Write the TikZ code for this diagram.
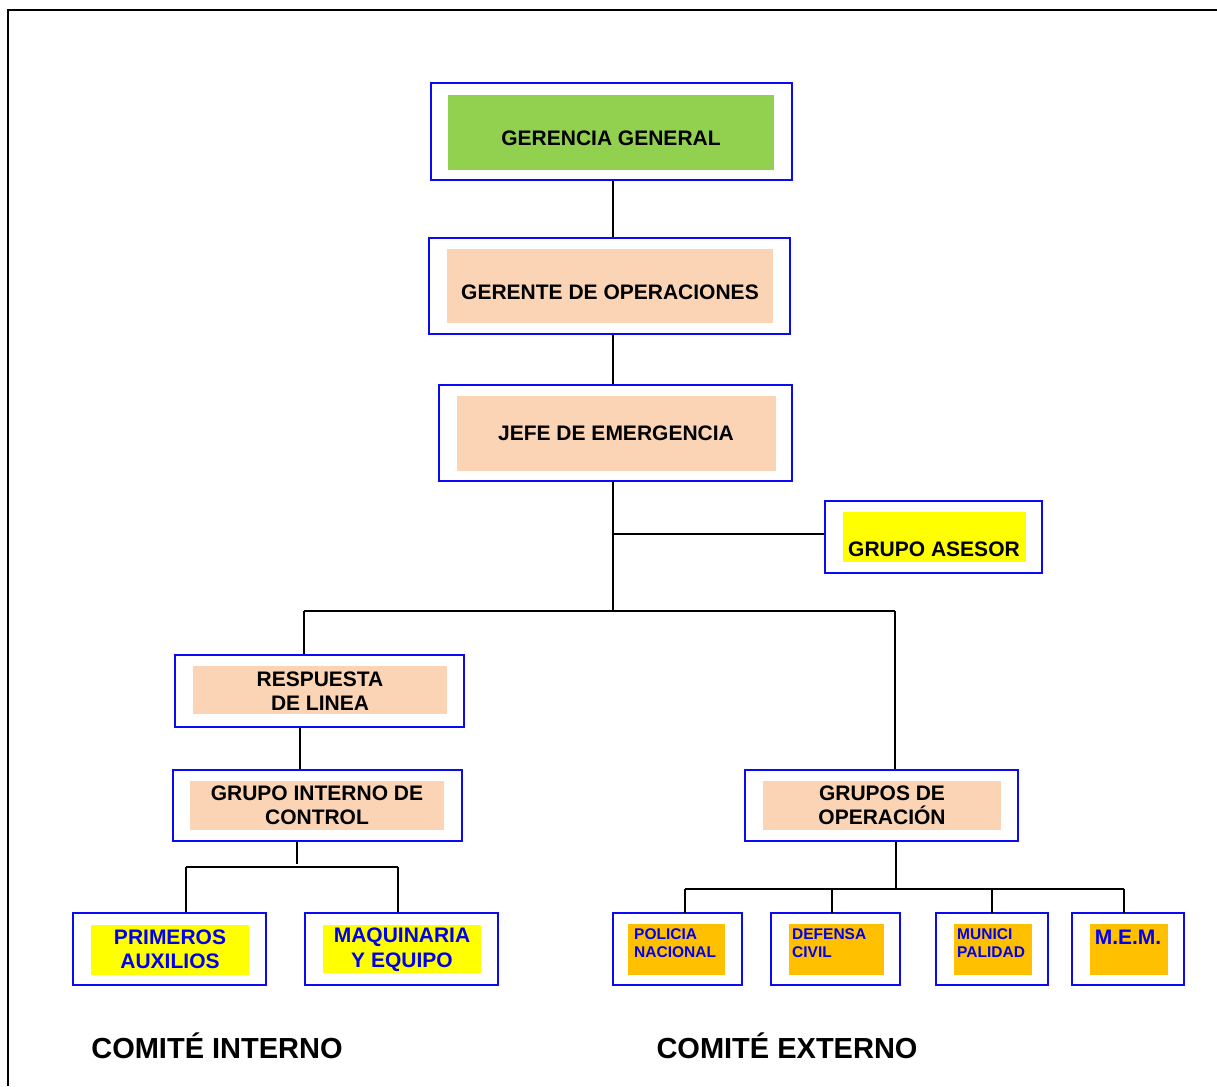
\documentclass[tikz,border=0pt]{standalone}
\usepackage{fontspec}
\setmainfont{Liberation Sans}
\usetikzlibrary{calc}
\definecolor{verdegg}{HTML}{92D050}
\definecolor{durazno}{HTML}{FAD4B4}
\definecolor{amarillo}{HTML}{FFFF00}
\definecolor{naranja}{HTML}{FFC000}
\definecolor{azulborde}{HTML}{0A0AF5}
\definecolor{azultexto}{HTML}{0000EE}
\tikzset{
  caja/.style={draw=azulborde, line width=2.6pt, fill=white, inner sep=0pt},
  relleno/.style={fill=#1, draw=none, inner sep=0pt},
  texto/.style={inner sep=0pt, font=\fontsize{21}{24.5}\selectfont\bfseries, align=center},
  textochico/.style={inner sep=0pt, font=\fontsize{15.5}{18}\selectfont\bfseries, align=left, anchor=west, text=azultexto},
  linea/.style={line width=1.8pt}
}

\begin{document}
\begin{tikzpicture}[x=1pt, y=-1pt]
		%%%%% START %%%%%
		\useasboundingbox (0,0) rectangle (1217,1086);
		\draw[line width=2pt] (8,1086) -- (8,10) -- (1217,10);
		
		\node[caja, minimum width=361pt, minimum height=97pt] (gg) at (611.5,131.5) {};
		\node[relleno=verdegg, minimum width=326pt, minimum height=75pt] (gg-f) at (611,132.5) {};
		\node[texto] (gg-t) at (611,138) {GERENCIA GENERAL};
		
		\node[caja, minimum width=361pt, minimum height=96pt] (go) at (609.5,286) {};
		\node[relleno=durazno, minimum width=326pt, minimum height=74pt] (go-f) at (610,286) {};
		\node[texto] (go-t) at (610,292) {GERENTE DE OPERACIONES};
		
		\node[caja, minimum width=353pt, minimum height=96pt] (je) at (615.5,433) {};
		\node[relleno=durazno, minimum width=319pt, minimum height=75pt] (je-f) at (616.5,433.5) {};
		\node[texto] (je-t) at (616,433) {JEFE DE EMERGENCIA};
		
		\node[caja, minimum width=217pt, minimum height=72pt] (ga) at (933.5,537) {};
		\node[relleno=amarillo, minimum width=183pt, minimum height=50pt] (ga-f) at (934.5,537) {};
		\node[texto] (ga-t) at (934,549) {GRUPO ASESOR};
		
		\node[caja, minimum width=289pt, minimum height=72pt] (rl) at (319.5,691) {};
		\node[relleno=durazno, minimum width=254pt, minimum height=48pt] (rl-f) at (320,690) {};
		\node[texto] (rl-t) at (320,691) {RESPUESTA\\DE LINEA};
		
		\node[caja, minimum width=289pt, minimum height=71pt] (gic) at (317.5,805.5) {};
		\node[relleno=durazno, minimum width=254pt, minimum height=49pt] (gic-f) at (317,805.5) {};
		\node[texto] (gic-t) at (317,805.5) {GRUPO INTERNO DE\\CONTROL};
		
		\node[caja, minimum width=273pt, minimum height=71pt] (gdo) at (881.5,805.5) {};
		\node[relleno=durazno, minimum width=238pt, minimum height=49pt] (gdo-f) at (882,805.5) {};
		\node[texto] (gdo-t) at (882,805.5) {GRUPOS DE\\OPERACIÓN};
		
		\node[caja, minimum width=193pt, minimum height=72pt] (pa) at (169.5,949) {};
		\node[relleno=amarillo, minimum width=158pt, minimum height=50pt] (pa-f) at (170,950) {};
		\node[texto, text=azultexto] (pa-t) at (170,949.5) {PRIMEROS\\AUXILIOS};
		
		\node[caja, minimum width=193pt, minimum height=72pt] (mye) at (401.5,949) {};
		\node[relleno=amarillo, minimum width=158pt, minimum height=48pt] (mye-f) at (402,949) {};
		\node[texto, text=azultexto] (mye-t) at (402,949.5) {MAQUINARIA\\Y EQUIPO};
		
		\node[caja, minimum width=129pt, minimum height=72pt] (pn) at (677.5,949) {};
		\node[relleno=naranja, minimum width=97pt, minimum height=51pt] (pn-f) at (676.5,949.5) {};
		\node[textochico] (pn-t) at (634,943.5) {POLICIA\\NACIONAL};
		
		\node[caja, minimum width=129pt, minimum height=72pt] (dc) at (835.5,949) {};
		\node[relleno=naranja, minimum width=95pt, minimum height=51pt] (dc-f) at (836.5,949.5) {};
		\node[textochico] (dc-t) at (792,943.5) {DEFENSA\\CIVIL};
		
		\node[caja, minimum width=112pt, minimum height=72pt] (mu) at (992,949) {};
		\node[relleno=naranja, minimum width=78pt, minimum height=51pt] (mu-f) at (993,949.5) {};
		\node[textochico] (mu-t) at (957,943.5) {MUNICI\\PALIDAD};
		
		\node[caja, minimum width=112pt, minimum height=72pt] (mem) at (1128,949) {};
		\node[relleno=naranja, minimum width=78pt, minimum height=51pt] (mem-f) at (1129,949.5) {};
		\node[texto, text=azultexto] (mem-t) at (1128,937) {M.E.M.};
		
		\node[inner sep=0pt, font=\fontsize{29}{34}\selectfont\bfseries] (ci) at (217,1046) {COMITÉ INTERNO};
		\node[inner sep=0pt, font=\fontsize{29}{34}\selectfont\bfseries] (ce) at (787,1046) {COMITÉ EXTERNO};
		
		% conectores
		\coordinate (bus) at (613,611);
		\coordinate (busL) at (304,611);
		\coordinate (busR) at (895,611);
		\coordinate (bus2L) at (186,867);
		\coordinate (bus2R) at (398,867);
		\coordinate (bus3) at (896,889);
		\coordinate (gaw) at ([yshift=3pt]ga.west);
		
		\draw[linea] (gg.south -| bus) -- (go.north -| bus);
		\draw[linea] (go.south -| bus) -- (je.north -| bus);
		\draw[linea] (je.south -| bus) -- (bus);
		\draw[linea] (bus |- gaw) -- (gaw);
		\draw[linea] (busL) -- (busR);
		\draw[linea] (busL) -- (busL |- rl.north);
		\draw[linea] (busR) -- (busR |- gdo.north);
		\draw[linea] ([xshift=-19.5pt]rl.south) -- ([xshift=-19.5pt]rl.south |- gic.north);
		\draw[linea] ([xshift=-20.5pt]gic.south) -- ++(0,22);
		\draw[linea] (bus2L) -- (bus2R);
		\draw[linea] (bus2L) -- (bus2L |- pa.north);
		\draw[linea] (bus2R) -- (bus2R |- mye.north);
		\draw[linea] (gdo.south -| bus3) -- (bus3);
		\draw[linea] (bus3 -| 685,0) -- (bus3 -| 1124,0);
		\foreach \x in {685,832,992,1124}
			\draw[linea] (\x,889) -- (\x,913);
		%%%%% END %%%%%
	\end{tikzpicture}
\end{document}
